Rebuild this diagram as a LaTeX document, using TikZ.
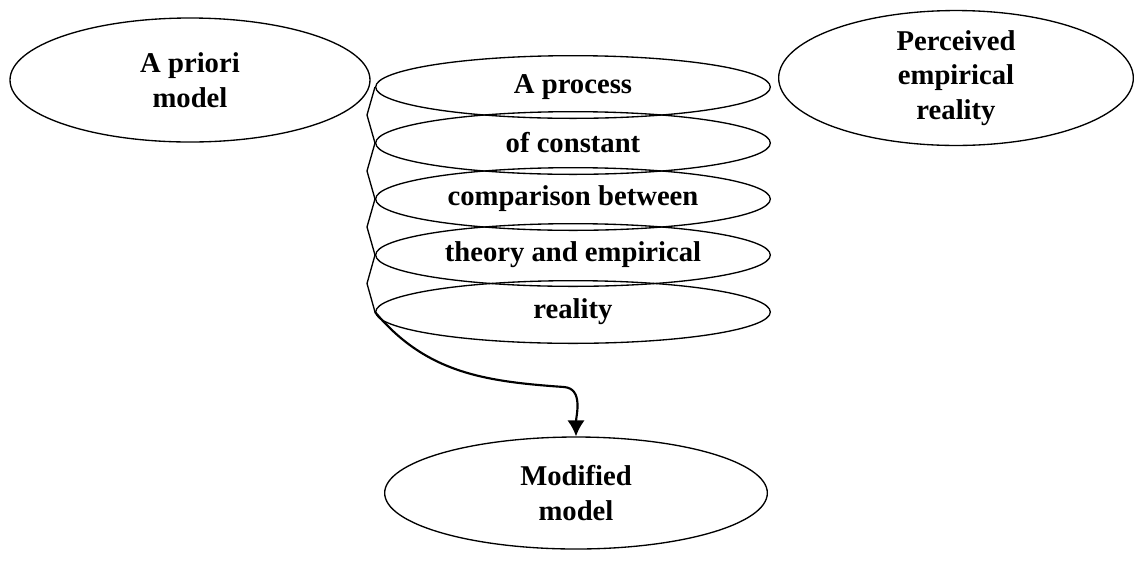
\documentclass[tikz,border=0pt]{standalone}
\usepackage{fontspec}
\setmainfont{Liberation Serif}
\usetikzlibrary{calc,shapes.geometric,arrows.meta}
\tikzset{>=latex}
\tikzstyle{bubble} = [ellipse, black, draw, line width=1pt, align=center, inner sep=0pt, font=\fontsize{21.5}{26}\selectfont\bfseries]
\tikzstyle{coil}   = [ellipse, black, draw, line width=1pt, minimum width=296pt, minimum height=47pt, inner sep=0pt, font=\fontsize{21.5}{26}\selectfont\bfseries]

\begin{document}
\begin{tikzpicture}[x=0.75pt, y=-0.75pt]
      \useasboundingbox (0,0) rectangle (1134,569);
      \node[bubble, minimum width=270pt, minimum height=93pt] (apriori) at (190,80) {A priori\\model};
      \node[bubble, minimum width=266pt, minimum height=93pt] (perceived) at (956,78) {Perceived\\empirical\\reality};
      \node[bubble, minimum width=287pt, minimum height=84pt] (modified) at (576,493) {Modified\\model};
      \node[coil] (p1) at (573,87)  {A process};
      \node[coil] (p2) at (573,143) {of constant};
      \node[coil] (p3) at (573,199) {comparison between};
      \node[coil] (p4) at (573,255) {theory and empirical};
      \node[coil] (p5) at (573,312) {reality};
      % zigzag down the left side of the coil
      \foreach \a/\b in {p1/p2, p2/p3, p3/p4, p4/p5}
        \draw[line width=1pt] (\a.west) -- ($(\a.west)!0.5!(\b.west)+(-8,0)$) -- (\b.west);
      \draw[-{Latex[length=12pt,width=13pt]}, line width=1.6pt] (p5.west) to[out=-50, in=176] (564,387) to[out=-4, in=90] (modified.north);
    \end{tikzpicture}
\end{document}
